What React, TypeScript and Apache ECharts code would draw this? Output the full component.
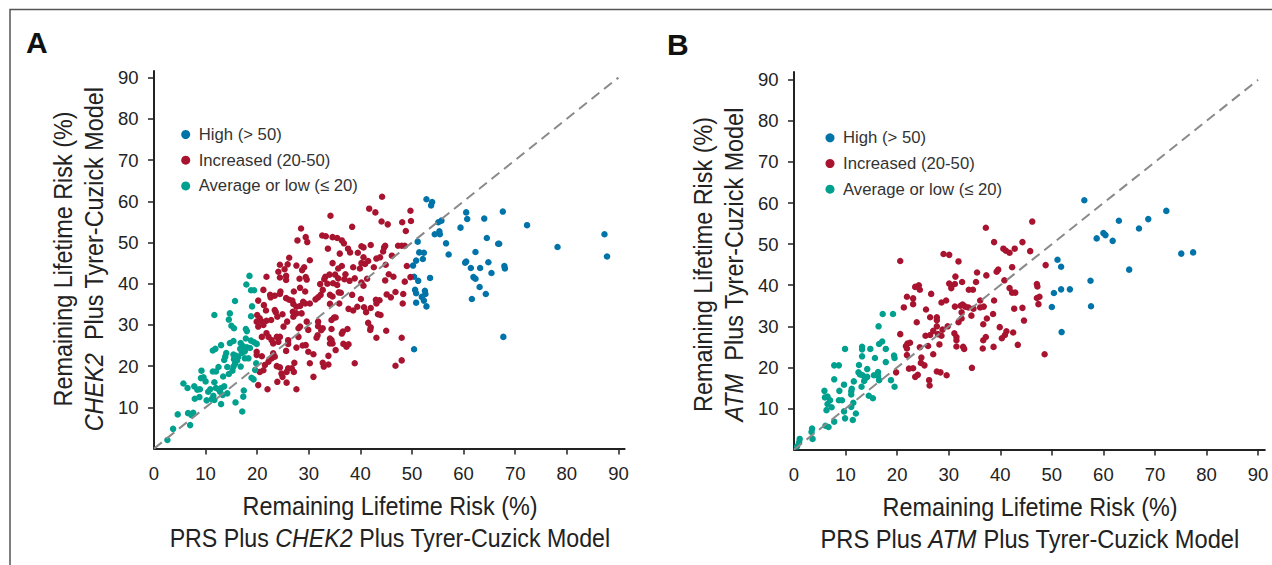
import React, { useEffect, useRef } from "react";
import * as echarts from "echarts";

const xTickLabels = [0, 10, 20, 30, 40, 50, 60, 70, 80, 90];
const majorTicks = [10, 20, 30, 40, 50, 60, 70, 80, 90];
const identityLine = [[0, 0], [90, 90]];
const seriesNames = ["High (> 50)", "Increased (20-50)", "Average or low (≤ 20)"];

const aHigh = [
  [52.8,60.5],[53.9,59.8],[53.7,59.0],[55.7,55.3],[55.1,54.9],[60.5,57.3],[60.7,55.7],[64.0,55.8],[67.6,57.5],[72.3,54.2],
  [87.3,52.0],[78.2,48.9],[87.8,46.6],[59.4,53.6],[54.4,52.0],[55.3,52.7],[55.4,52.0],[51.1,50.2],[56.6,49.8],[57.1,47.1],
  [64.5,51.1],[66.7,49.7],[66.9,49.7],[62.3,47.7],[51.4,47.6],[52.3,47.5],[52.1,46.0],[50.8,45.6],[50.2,44.4],[60.5,45.4],
  [60.3,45.1],[64.8,45.2],[61.4,43.8],[63.2,43.8],[67.9,44.3],[68.0,43.7],[65.4,42.6],[61.9,41.6],[62.3,41.2],[50.4,41.7],
  [51.2,40.7],[53.5,41.4],[63.1,39.2],[50.6,38.5],[50.8,37.7],[52.5,38.3],[52.6,37.5],[51.9,36.8],[52.3,35.9],[50.8,35.4],
  [52.8,34.5],[61.6,36.3],[64.3,37.5],[67.7,27.1],[50.4,24.1],
];

const aIncreased = [
  [44.2,61.1],[41.7,58.2],[42.9,57.3],[49.7,57.7],[49.8,55.2],[48.1,54.9],[48.8,52.8],[44.1,55.1],[45.3,54.4],[34.2,56.5],
  [38.4,53.8],[28.5,53.4],[29.4,51.3],[29.7,50.1],[27.8,50.5],[32.6,51.7],[33.3,51.5],[34.6,51.3],[35.5,51.1],[36.4,50.5],
  [36.8,49.8],[33.7,48.5],[37.6,48.5],[38.0,47.6],[40.2,49.1],[40.6,48.8],[42.0,49.4],[44.8,49.2],[44.6,48.8],[39.5,47.5],
  [44.4,47.8],[36.0,47.3],[30.2,45.7],[26.2,46.3],[24.4,44.6],[25.9,44.7],[25.3,43.5],[24.1,42.9],[24.4,41.5],[21.8,41.7],
  [25.6,41.9],[25.6,40.9],[27.6,44.4],[29.1,44.0],[28.7,43.3],[28.2,41.2],[29.4,41.6],[29.6,41.0],[34.6,45.0],[36.4,44.3],
  [35.7,43.7],[40.6,46.4],[41.5,45.5],[40.2,45.0],[40.9,44.8],[39.9,43.7],[38.6,44.0],[43.1,46.1],[43.8,46.4],[46.1,46.8],
  [42.6,44.0],[44.9,44.6],[47.3,49.2],[48.0,49.2],[48.6,49.2],[49.0,44.3],[45.5,42.3],[46.4,41.7],[48.6,40.5],[49.7,41.6],
  [44.8,40.8],[45.1,37.4],[45.9,36.7],[46.8,38.0],[48.3,37.5],[48.2,35.2],[33.2,41.7],[34.0,42.2],[33.0,41.1],[35.1,42.2],
  [35.7,41.3],[37.1,42.3],[36.9,41.1],[37.9,40.7],[38.9,41.3],[34.7,40.1],[35.5,39.7],[33.6,40.0],[32.2,39.9],[41.3,41.2],
  [40.2,40.3],[40.6,39.5],[35.8,37.9],[36.2,37.8],[32.7,38.5],[32.3,37.3],[31.8,36.7],[34.1,37.3],[34.6,36.9],[31.3,36.2],
  [30.2,35.2],[29.3,35.2],[34.1,35.1],[35.9,35.2],[38.4,37.3],[40.1,36.3],[37.7,33.9],[38.6,33.5],[39.4,34.4],[40.7,34.3],
  [41.1,33.1],[42.0,34.1],[43.0,36.1],[43.7,36.0],[43.1,35.2],[43.4,32.6],[43.9,32.4],[41.5,30.5],[42.0,29.4],[41.9,28.8],
  [45.0,28.6],[43.1,26.9],[48.0,26.9],[48.0,21.4],[46.8,20.1],[38.9,20.7],[37.5,29.0],[36.6,28.4],[36.4,27.9],[34.9,31.8],
  [35.2,31.8],[34.4,31.2],[34.4,29.0],[31.8,30.8],[31.8,29.7],[32.4,28.7],[32.7,29.2],[31.7,27.5],[31.5,26.9],[29.6,30.8],
  [28.3,29.6],[28.0,29.2],[29.9,28.8],[28.0,27.1],[34.1,26.7],[34.4,26.3],[34.1,25.5],[34.6,25.5],[35.2,23.9],[36.7,25.4],
  [37.3,24.7],[37.7,25.3],[33.8,22.5],[32.7,20.8],[32.9,19.9],[33.8,20.4],[30.2,20.7],[30.9,22.9],[30.9,17.4],[29.4,25.1],
  [28.8,25.0],[29.9,23.5],[27.6,24.5],[26.0,25.4],[25.6,23.7],[26.0,26.3],[25.1,29.6],[25.8,30.8],[27.0,32.0],[27.6,32.8],
  [28.6,32.8],[26.9,33.2],[24.9,32.6],[23.9,32.0],[23.4,33.6],[23.6,33.1],[21.7,33.5],[20.0,32.4],[21.3,34.8],[20.2,35.9],
  [21.2,38.5],[22.5,37.3],[22.6,36.7],[23.4,37.1],[24.5,38.1],[24.4,37.5],[25.6,36.5],[26.2,36.1],[26.8,35.9],[27.0,35.1],
  [28.3,39.0],[27.1,38.1],[29.3,38.1],[28.9,35.6],[28.3,34.6],[27.6,34.4],[20.5,31.6],[19.9,30.8],[20.2,29.6],[20.9,30.8],
  [21.2,30.0],[21.8,31.0],[22.7,31.2],[21.8,28.0],[20.9,27.1],[22.2,27.1],[22.8,26.3],[23.1,25.5],[23.8,27.1],[24.4,27.1],
  [24.1,25.9],[19.9,23.5],[19.9,22.7],[20.9,22.4],[23.1,23.1],[22.8,21.9],[22.2,21.1],[21.5,20.3],[20.5,18.6],[21.2,19.0],
  [23.4,22.3],[23.8,20.0],[24.4,19.7],[24.7,18.2],[24.9,17.4],[26.0,19.5],[26.7,19.5],[25.7,18.6],[27.2,20.8],[27.1,18.6],
  [23.9,16.2],[25.7,16.0],[20.2,15.4],[22.0,14.4],[27.6,14.4],
];

const aAverage = [
  [18.5,41.9],[17.9,39.8],[18.8,38.4],[19.4,38.4],[15.7,35.8],[11.7,32.4],[14.7,32.8],[14.5,31.3],[19.0,34.5],[18.8,32.1],
  [15.0,29.8],[15.5,29.2],[17.8,29.0],[18.0,28.5],[13.0,25.1],[11.4,23.8],[11.9,24.2],[14.7,25.6],[15.4,26.1],[17.8,26.7],
  [16.8,25.6],[18.8,26.2],[19.4,25.8],[19.9,25.4],[17.2,24.9],[16.7,24.2],[18.0,24.6],[18.6,24.4],[17.6,23.6],[17.0,23.2],
  [18.3,21.9],[17.6,21.9],[14.0,23.2],[13.8,22.3],[13.6,21.5],[15.4,22.8],[15.9,22.5],[16.3,22.2],[15.5,21.7],[16.1,21.4],
  [15.7,20.6],[15.4,19.9],[16.8,19.9],[15.2,18.9],[14.5,18.1],[14.2,19.8],[12.5,19.8],[11.4,18.7],[12.0,18.7],[13.4,17.5],
  [9.2,18.9],[9.6,17.3],[9.1,17.1],[10.0,16.3],[11.7,16.1],[5.7,15.8],[6.5,14.7],[7.8,15.1],[8.4,14.3],[8.9,14.4],
  [7.9,12.1],[8.8,12.5],[10.9,14.4],[10.5,13.8],[12.0,14.7],[12.5,14.4],[13.0,14.7],[13.6,15.1],[12.8,13.8],[14.2,13.4],
  [11.5,12.8],[10.2,11.7],[11.2,12.0],[11.7,11.8],[13.3,13.0],[13.0,10.8],[15.8,11.2],[17.1,9.0],[17.4,14.1],[17.3,12.6],
  [18.9,17.2],[19.3,16.8],[19.6,19.1],[19.8,20.7],[4.6,8.3],[6.6,8.6],[7.6,8.7],[7.3,8.1],[7.0,5.7],[3.7,4.8],[2.6,2.1],
];

const bHigh = [
  [56.3,60.7],[51.1,46.2],[51.8,44.5],[50.4,38.1],[51.8,39.0],[53.5,39.0],[57.5,41.1],[50.0,34.7],[57.6,34.9],[51.9,28.6],
  [58.7,51.4],[60.0,52.7],[60.4,52.2],[61.8,50.8],[63.0,55.7],[66.9,53.8],[68.7,56.1],[72.2,58.1],[65.0,43.8],[75.1,47.7],[77.4,48.0],
];

const bIncreased = [
  [46.2,55.5],[37.2,54.0],[38.8,50.5],[44.3,50.5],[40.6,48.9],[41.1,48.4],[41.8,47.9],[42.8,48.9],[45.8,48.3],[48.8,44.9],
  [29.0,47.6],[30.1,47.4],[31.9,45.8],[20.6,45.9],[42.3,44.4],[35.5,43.1],[37.3,42.4],[39.3,43.3],[39.6,43.8],[31.3,42.1],
  [32.6,40.8],[35.3,40.8],[40.8,41.2],[30.1,40.4],[31.2,40.3],[30.5,39.3],[33.9,38.9],[34.7,38.9],[23.5,39.6],[24.2,40.0],
  [24.4,38.9],[26.6,37.9],[21.9,37.2],[23.1,36.8],[23.1,35.4],[21.3,34.6],[25.6,34.1],[28.6,35.8],[29.5,36.3],[31.2,34.8],
  [32.3,35.0],[32.7,35.3],[33.2,34.8],[33.8,34.6],[34.8,34.3],[36.1,34.6],[36.8,34.8],[36.1,36.3],[38.8,36.3],[41.8,39.3],
  [42.3,38.2],[42.9,38.2],[47.1,40.3],[47.2,39.7],[47.1,36.9],[47.6,37.2],[47.4,35.4],[42.7,34.3],[44.3,34.5],[44.6,31.4],
  [26.4,32.2],[27.7,32.2],[27.7,31.5],[23.8,31.0],[32.5,33.4],[32.5,31.9],[31.9,31.0],[34.4,32.6],[38.6,33.0],[37.4,31.9],
  [36.7,30.5],[39.9,29.8],[41.2,28.8],[40.9,27.9],[40.3,27.1],[42.5,28.5],[43.4,25.5],[48.6,23.2],[27.7,30.0],[27.0,28.9],
  [25.5,27.7],[26.4,27.9],[27.9,28.1],[28.6,27.7],[28.8,29.2],[29.8,30.0],[20.6,28.1],[31.1,28.3],[31.5,27.4],[31.5,26.6],
  [31.5,25.1],[32.8,25.0],[33.0,24.5],[36.6,24.6],[36.7,26.6],[37.2,27.4],[38.7,25.0],[26.0,25.2],[24.4,24.9],[28.2,25.6],
  [27.0,23.2],[22.0,25.8],[22.5,26.0],[21.7,25.2],[21.9,24.6],[21.9,23.0],[24.7,22.4],[24.6,21.1],[25.3,20.5],[22.3,19.7],
  [23.1,19.8],[19.8,18.8],[23.5,17.7],[24.0,18.2],[27.7,19.0],[28.4,18.8],[29.6,18.1],[34.5,19.9],[26.2,16.9],[26.3,15.6],
];

const bAverage = [
  [17.2,33.0],[19.2,33.0],[16.4,30.0],[9.9,24.5],[13.2,25.0],[13.2,24.4],[14.8,24.5],[17.1,26.3],[16.5,25.7],[17.8,24.5],
  [13.2,22.7],[15.7,22.3],[17.8,21.3],[19.4,22.9],[19.5,22.3],[7.8,20.5],[8.7,20.5],[12.6,20.6],[14.2,19.6],[12.5,18.8],
  [12.8,18.3],[13.3,18.1],[14.2,17.7],[13.8,17.3],[13.6,16.7],[15.5,18.1],[16.3,18.9],[16.3,17.9],[16.5,16.9],[7.8,17.1],
  [11.6,16.6],[9.7,15.8],[13.1,15.3],[18.8,16.9],[19.5,15.3],[5.9,14.3],[8.8,14.3],[11.2,14.8],[11.1,14.2],[11.1,13.4],
  [6.0,12.7],[6.5,12.9],[7.0,12.0],[8.7,12.0],[9.3,12.0],[14.5,13.1],[15.3,12.5],[6.5,11.1],[7.3,10.3],[6.3,9.6],
  [11.5,11.4],[11.1,10.4],[9.7,9.3],[12.0,8.8],[9.9,7.6],[11.4,7.2],[7.8,6.8],[6.1,5.8],[6.7,5.5],[3.5,5.1],
  [3.4,4.3],[3.6,2.6],[1.1,2.6],[1.0,1.8],[0.6,0.8],
];

const BLUE = "#0073a8";
const RED = "#a8142f";
const TEAL = "#00a08f";
const INK = "#222222";
const BODY_FONT = "Liberation Sans";

const titleRich = {
  n: { fontFamily: BODY_FONT, fontSize: 26, fill: INK, lineHeight: 31 },
  i: { fontFamily: BODY_FONT, fontSize: 26, fill: INK, lineHeight: 31, fontStyle: "italic" as const },
};

function titleText(text: string, x: number, y: number, widthScale: number, vertical: boolean) {
  return {
    type: "text" as const,
    x,
    y,
    rotation: vertical ? Math.PI / 2 : 0,
    scaleX: widthScale,
    silent: true,
    style: { text, rich: titleRich, align: "center", verticalAlign: "middle", fontFamily: BODY_FONT, fontSize: 26, fill: INK },
  };
}

function axisBase(index: number, maxValue: number) {
  return {
    type: "value" as const,
    gridIndex: index,
    min: 0,
    max: maxValue,
    interval: 10,
    splitLine: { show: false },
    axisLine: { show: true, onZero: false, lineStyle: { color: INK, width: 2 } },
  };
}

function makeOption() {
  const panels = [
    { gene: "CHEK2", high: aHigh, inc: aIncreased, avg: aAverage },
    { gene: "ATM", high: bHigh, inc: bIncreased, avg: bAverage },
  ];
  return {
    animation: false,
    backgroundColor: "#ffffff",
    textStyle: { fontFamily: BODY_FONT },
    grid: [
      { left: 154, top: 71, width: 470.6, height: 377.6, outerBoundsMode: "none" },
      { left: 794, top: 72, width: 470.8, height: 377.6, outerBoundsMode: "none" },
    ],
    xAxis: panels.map((p, i) => ({
      ...axisBase(i, i === 0 ? 91.2 : 91.3),
      axisTick: { show: true, length: 6, customValues: majorTicks, lineStyle: { color: INK, width: 1.5 } },
      axisLabel: { show: true, customValues: xTickLabels, margin: 15, fontSize: 18.5, color: INK, fontFamily: BODY_FONT },
    })),
    yAxis: panels.map((p, i) => ({
      ...axisBase(i, i === 0 ? 91.6 : 91.9),
      axisTick: { show: true, length: 6, customValues: majorTicks, lineStyle: { color: INK, width: 1.5 } },
      axisLabel: { show: true, customValues: majorTicks, margin: 15.5, fontSize: 18.5, color: INK, fontFamily: BODY_FONT },
    })),
    legend: [
      { left: 181.2, top: 126 },
      { left: 825.5, top: 129.3 },
    ].map((pos) => ({
      ...pos,
      orient: "vertical" as const,
      padding: 0,
      icon: "circle",
      itemWidth: 9,
      itemHeight: 9,
      itemGap: 8.7,
      selectedMode: false,
      data: seriesNames,
      textStyle: { fontFamily: BODY_FONT, fontSize: 16.7, color: "#333333", lineHeight: 14, padding: [0, 0, 0, 3.5] },
    })),
    series: panels.flatMap((p, i) => {
      const groups = [
        { name: seriesNames[0], data: p.high, color: BLUE },
        { name: seriesNames[1], data: p.inc, color: RED },
        { name: seriesNames[2], data: p.avg, color: TEAL },
      ];
      return [
        ...groups.map((g) => ({
          type: "scatter" as const,
          name: g.name,
          xAxisIndex: i,
          yAxisIndex: i,
          data: g.data,
          symbol: "circle",
          symbolSize: 6.5,
          itemStyle: { color: g.color, opacity: 1 },
          z: 2,
        })),
        {
          type: "line" as const,
          name: "Equal risk",
          xAxisIndex: i,
          yAxisIndex: i,
          data: identityLine,
          symbol: "none",
          silent: true,
          lineStyle: { color: "#8a8a8a", width: 2, type: [10, 6] },
          z: 3,
        },
      ];
    }),
    graphic: [
      { type: "polyline", silent: true, shape: { points: [[10, 565], [10, 9.5], [1272, 9.5]] }, style: { fill: "none", stroke: "#555555", lineWidth: 1.5 } },
      { type: "text", left: 26, top: 27, style: { text: "A", fontFamily: BODY_FONT, fontSize: 30, fontWeight: "bold", fill: "#111111" } },
      { type: "text", left: 667, top: 29, style: { text: "B", fontFamily: BODY_FONT, fontSize: 30, fontWeight: "bold", fill: "#111111" } },
      titleText("{n|Remaining Lifetime Risk (%)}", 390, 506, 0.9, false),
      titleText("{n|PRS Plus }{i|CHEK2}{n| Plus Tyrer-Cuzick Model}", 390, 538, 0.892, false),
      titleText("{n|Remaining Lifetime Risk (%)}", 1030, 507, 0.9, false),
      titleText("{n|PRS Plus }{i|ATM}{n| Plus Tyrer-Cuzick Model}", 1030, 539.5, 0.91, false),
      titleText("{n|Remaining Lifetime Risk (%)}", 63, 259, 0.9, true),
      titleText("{i|CHEK2}{n|  Plus Tyrer-Cuzick Model}", 94, 259, 0.9, true),
      titleText("{n|Remaining Lifetime Risk (%)}", 703, 264.5, 0.9, true),
      titleText("{i|ATM}{n|  Plus Tyrer-Cuzick Model}", 734.5, 264.5, 0.9, true),
    ],
  };
}

export default function App() {
  const ref = useRef<HTMLDivElement | null>(null);
  useEffect(() => {
    if (!ref.current) return;
    const chart = echarts.init(ref.current, undefined, { renderer: "svg" });
    chart.setOption(makeOption() as any);
    return () => chart.dispose();
  }, []);
  return <div ref={ref} style={{ position: "absolute", left: 0, top: 0, width: 1272, height: 565 }} />;
}
